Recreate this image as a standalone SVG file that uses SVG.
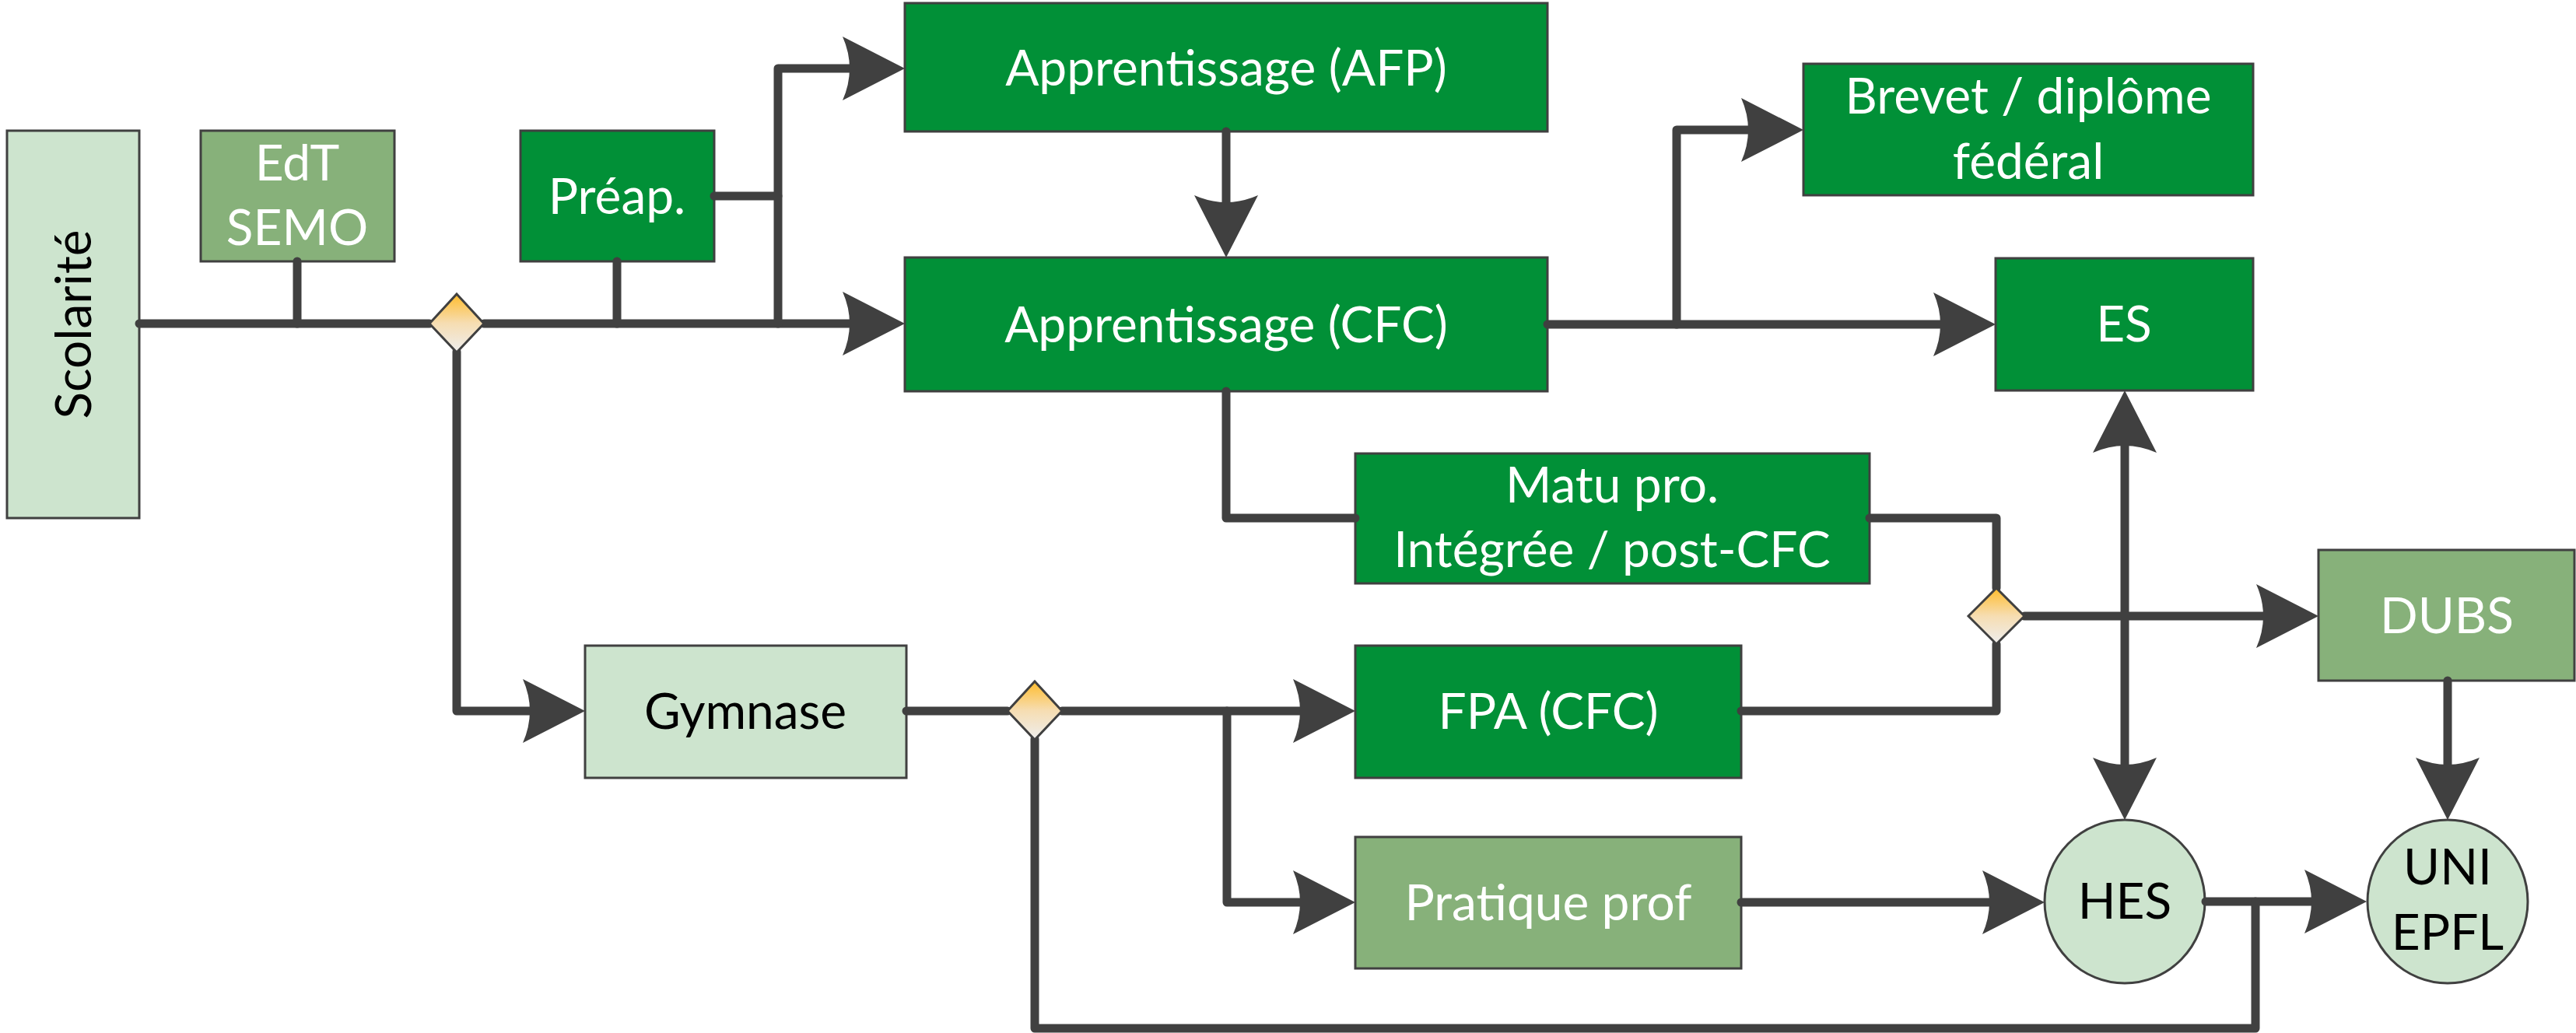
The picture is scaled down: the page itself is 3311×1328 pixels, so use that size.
<svg xmlns="http://www.w3.org/2000/svg" width="3311" height="1328" viewBox="0 0 3311 1328">
<style>
.dk{fill:#019037;stroke:#404040;stroke-width:3}
.md{fill:#87B17A;stroke:#404040;stroke-width:3}
.lt{fill:#CDE4CE;stroke:#404040;stroke-width:3}
.dm{fill:url(#dg);stroke:#404040;stroke-width:3}
.tw{font-family:Lato,"Open Sans",sans-serif;font-size:64px;fill:#FFFFFF;text-anchor:middle}
.tb{font-family:Lato,"Open Sans",sans-serif;font-size:64px;fill:#000000;text-anchor:middle}
.cn{fill:none;stroke:#404040;stroke-width:11;stroke-linecap:round;stroke-linejoin:round}
</style>
<defs>
<linearGradient id="dg" x1="0" y1="0" x2="0" y2="1">
<stop offset="0" stop-color="#FFBC2C"/>
<stop offset="0.5" stop-color="#F6DDB2"/>
<stop offset="1" stop-color="#EEEEEE"/>
</linearGradient>
<marker id="ar" viewBox="-82 -43 84 86" refX="-62" refY="0" markerWidth="84" markerHeight="86" markerUnits="userSpaceOnUse" orient="auto-start-reverse">
<path d="M0,0 L-80,-41 Q-62,0 -80,41 Z" fill="#404040"/>
</marker>
</defs>
<rect width="3311" height="1328" fill="#FFFFFF"/>

<g id="scolarite"><rect class="lt" x="9" y="168" width="170" height="498"/><text class="tb" transform="translate(117,417) rotate(-90)">Scolarité</text></g>
<g id="edt"><rect class="md" x="258" y="168" width="249" height="168"/><text class="tw" x="382" y="232">EdT</text><text class="tw" x="382" y="315">SEMO</text></g>
<g id="preap"><rect class="dk" x="669" y="168" width="249" height="168"/><text class="tw" x="793" y="275">Préap.</text></g>
<g id="afp"><rect class="dk" x="1163" y="4" width="826" height="165"/><text class="tw" x="1576" y="110">Apprentissage (AFP)</text></g>
<g id="cfc"><rect class="dk" x="1163" y="331" width="826" height="172"/><text class="tw" x="1576" y="440">Apprentissage (CFC)</text></g>
<g id="brevet"><rect class="dk" x="2318" y="82" width="578" height="169"/><text class="tw" x="2607" y="146">Brevet / diplôme</text><text class="tw" x="2607" y="230">fédéral</text></g>
<g id="es"><rect class="dk" x="2565" y="332" width="331" height="170"/><text class="tw" x="2730" y="439">ES</text></g>
<g id="matu"><rect class="dk" x="1742" y="583" width="661" height="167"/><text class="tw" x="2072" y="646">Matu pro.</text><text class="tw" x="2072" y="729">Intégrée / post-CFC</text></g>
<g id="gymnase"><rect class="lt" x="752" y="830" width="413" height="170"/><text class="tb" x="958" y="937">Gymnase</text></g>
<g id="fpa"><rect class="dk" x="1742" y="830" width="496" height="170"/><text class="tw" x="1990" y="937">FPA (CFC)</text></g>
<g id="pratique"><rect class="md" x="1742" y="1076" width="496" height="169"/><text class="tw" x="1990" y="1183">Pratique prof</text></g>
<g id="dubs"><rect class="md" x="2980" y="707" width="329" height="168"/><text class="tw" x="3145" y="814">DUBS</text></g>
<g id="hes"><ellipse class="lt" cx="2731" cy="1159" rx="103" ry="105"/><text class="tb" x="2731" y="1181">HES</text></g>
<g id="uni"><ellipse class="lt" cx="3146" cy="1159" rx="103" ry="105"/><text class="tb" x="3146" y="1137">UNI</text><text class="tb" x="3146" y="1221">EPFL</text></g>

<g id="connectors" class="cn">
<path d="M179,416 H552"/>
<path d="M382,336 V416"/>
<path d="M622,416 H1101" marker-end="url(#ar)"/>
<path d="M793,336 V416"/>
<path d="M918,252 H1000"/>
<path d="M1000,416 V88 H1101" marker-end="url(#ar)"/>
<path d="M1576,169 V269" marker-end="url(#ar)"/>
<path d="M1989,417 H2503" marker-end="url(#ar)"/>
<path d="M2155,417 V167 H2256" marker-end="url(#ar)"/>
<path d="M1576,503 V666 H1742"/>
<path d="M2403,666 H2566 V756"/>
<path d="M2238,914 H2566 V828"/>
<path d="M2602,792 H2918" marker-end="url(#ar)"/>
<path d="M2731,564 V992" marker-start="url(#ar)" marker-end="url(#ar)"/>
<path d="M3146,875 V992" marker-end="url(#ar)"/>
<path d="M587,452 V914 H690" marker-end="url(#ar)"/>
<path d="M1165,914 H1295"/>
<path d="M1365,914 H1680" marker-end="url(#ar)"/>
<path d="M1577,914 V1160 H1680" marker-end="url(#ar)"/>
<path d="M2238,1160 H2566" marker-end="url(#ar)"/>
<path d="M2835,1159 H2980" marker-end="url(#ar)"/>
<path d="M1330,950 V1322 H2899 V1159"/>
</g>

<g id="decision1"><polygon class="dm" points="587,378 622,416 587,453 552,416"/></g>
<g id="decision2"><polygon class="dm" points="1330,876 1365,914 1330,951 1295,914"/></g>
<g id="decision3"><polygon class="dm" points="2566,756 2602,792 2566,828 2530,792"/></g>
</svg>
